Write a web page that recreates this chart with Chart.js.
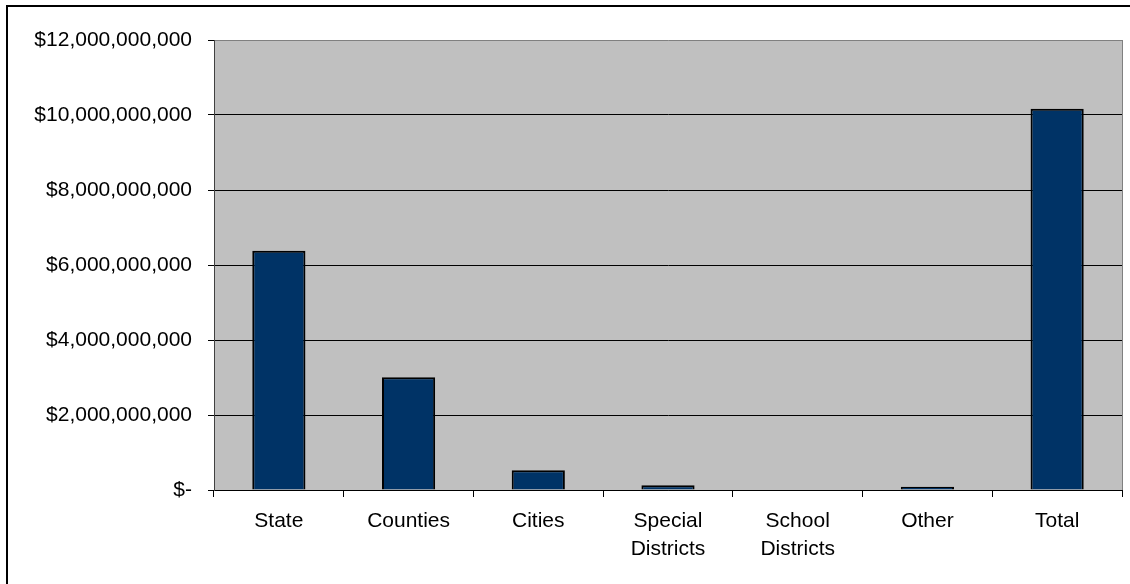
<!DOCTYPE html>
<html>
<head>
<meta charset="utf-8">
<script src="https://cdn.jsdelivr.net/npm/chart.js@4.4.0/dist/chart.umd.min.js"></script>
<style>
    body { margin: 0; background: #fff; }
    #wrap { position: relative; width: 1130px; height: 584px; overflow: hidden; }
    #frame { position: absolute; left: 6px; top: 5px; width: 1200px; height: 700px;
             border-left: 2px solid #000; border-top: 2px solid #000; }
    #chart { position: absolute; left: 0; top: 0; }
</style>
</head>
<body>
<div id="wrap">
    <div id="frame"></div>
    <canvas id="chart" width="1130" height="584"></canvas>
</div>
<script>
// categories and amounts (dollars)
const categories = ['State', 'Counties', 'Cities', ['Special', 'Districts'], ['School', 'Districts'], 'Other', 'Total'];
const amounts = [6380000000, 3010000000, 525000000, 130000000, 0, 90000000, 10170000000];
const yMax = 12000000000;
const yStep = 2000000000;

const plotBackground = {
    id: 'plotBackground',
    beforeDraw(chart) {
        const { ctx, chartArea } = chart;
        ctx.save();
        ctx.fillStyle = '#C0C0C0';
        ctx.fillRect(chartArea.left, chartArea.top, chartArea.right - chartArea.left, chartArea.bottom - chartArea.top);
        ctx.restore();
    },
    beforeDatasetsDraw(chart) {
        const { ctx, chartArea } = chart;
        ctx.save();
        ctx.strokeStyle = '#808080';
        ctx.lineWidth = 1;
        ctx.beginPath();
        ctx.moveTo(Math.round(chartArea.right) + 0.5, chartArea.top);
        ctx.lineTo(Math.round(chartArea.right) + 0.5, chartArea.bottom);
        ctx.stroke();
        ctx.restore();
    }
};

function formatDollars(v) {
    if (v === 0) return '$-';
    return '$' + v.toLocaleString('en-US');
}

const ctx = document.getElementById('chart').getContext('2d');
new Chart(ctx, {
    type: 'bar',
    data: {
        labels: categories,
        datasets: [{
            data: amounts,
            backgroundColor: '#003366',
            borderColor: '#000000',
            borderWidth: 2,
            barPercentage: 0.41,
            categoryPercentage: 1
        }]
    },
    plugins: [plotBackground],
    options: {
        responsive: false,
        animation: false,
        layout: { padding: { left: 0, top: 40, right: 8, bottom: 0 } },
        plugins: {
            legend: { display: false },
            tooltip: { enabled: false }
        },
        scales: {
            x: {
                offset: true,
                grid: {
                    offset: true,
                    drawOnChartArea: false,
                    drawTicks: true,
                    tickLength: 7,
                    color: '#000'
                },
                border: { color: '#000', width: 1 },
                ticks: {
                    color: '#000',
                    maxRotation: 0,
                    autoSkip: false,
                    padding: 10,
                    font: { family: 'Liberation Sans, Arial, sans-serif', size: 21, lineHeight: 1.33 }
                },
                afterFit(scale) { scale.height = 94; }
            },
            y: {
                min: 0,
                max: yMax,
                grid: {
                    color: ctx => ctx.tick && ctx.tick.value === yMax ? '#808080' : '#000',
                    tickColor: '#000',
                    tickLength: 6
                },
                border: { color: '#404040', width: 1 },
                ticks: {
                    stepSize: yStep,
                    color: '#000',
                    padding: 16,
                    font: { family: 'Liberation Sans, Arial, sans-serif', size: 21 },
                    callback: v => formatDollars(v)
                },
                afterFit(scale) { scale.width = 214; }
            }
        }
    }
});
</script>
</body>
</html>
